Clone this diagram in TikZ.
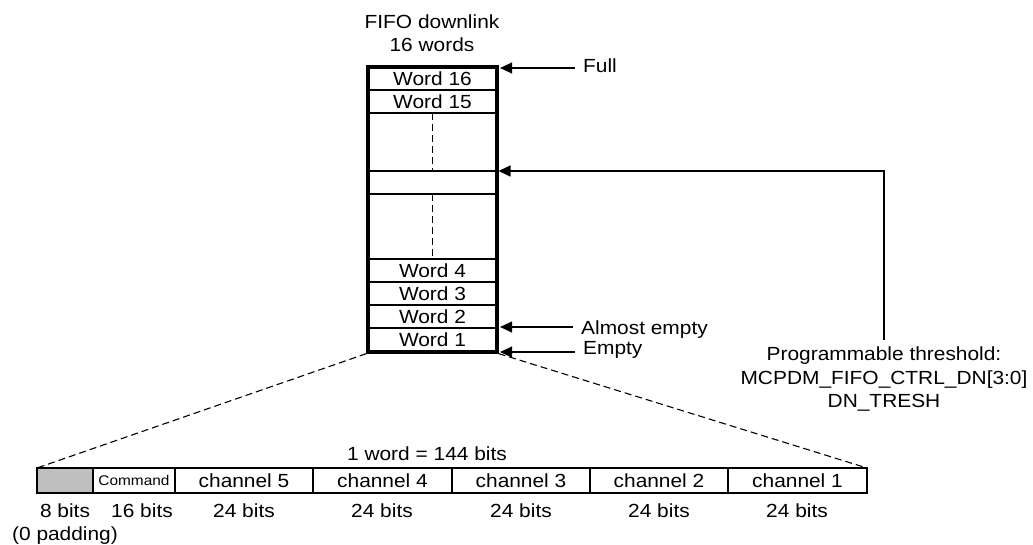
\documentclass[tikz,border=0pt]{standalone}
\usepackage{fontspec}
\setmainfont[FakeStretch=1.1]{Liberation Sans}
\usetikzlibrary{arrows.meta,fit}
\definecolor{padgray}{HTML}{BFBFBF}
\begin{document}
\begin{tikzpicture}[x=1pt,y=-1pt,
  font=\fontsize{19}{23.5}\selectfont,
  row/.style={draw, line width=1.6pt, minimum width=129pt, inner sep=0pt, outer sep=0pt},
  cell/.style={draw, line width=1.3pt, minimum height=25pt, inner sep=0pt, outer sep=0pt},
  arr/.style={line width=1.3pt, -{Triangle[length=12pt,width=11pt]}, shorten >=1.5pt},
  dsh/.style={line width=1.1pt, dash pattern=on 7pt off 4pt},
  lbl/.style={inner sep=0pt, anchor=base west},
  ctr/.style={inner sep=0pt, anchor=base}]
\useasboundingbox (0,0) rectangle (1033,544);

% title
\node[ctr] (t1) at (432,28.5) {FIFO downlink};
\node[ctr] (t2) at (432,51) {16 words};

% FIFO rows
\node[row, minimum height=23pt] (w16) at (432.5,78.5) {Word 16};
\node[row, minimum height=23pt] (w15) at (432.5,101.5) {Word 15};
\node[row, minimum height=58pt] (gap1) at (432.5,142) {};
\node[row, minimum height=23pt] (thr) at (432.5,182.5) {};
\node[row, minimum height=65pt] (gap2) at (432.5,226.5) {};
\node[row, minimum height=23pt] (w4) at (432.5,270.5) {Word 4};
\node[row, minimum height=23pt] (w3) at (432.5,293.5) {Word 3};
\node[row, minimum height=23pt] (w2) at (432.5,316.5) {Word 2};
\node[row, minimum height=24pt] (w1) at (432.5,340) {Word 1};
\draw[dsh] (gap1.north) -- (gap1.south);
\draw[dsh] (gap2.north) -- (gap2.south);
\node[fit=(w16)(w1), inner sep=0pt, draw, line width=3.2pt] (fifo) {};

% side labels and arrows
\coordinate (fullA) at (575,68);
\draw[arr] (fullA) -- (fullA -| fifo.east);
\node[lbl] (full) at (583,72) {Full};

\coordinate (aeA) at (573,327);
\draw[arr] (aeA) -- (aeA -| fifo.east);
\node[lbl] (ae) at (581,334) {Almost empty};

\coordinate (eA) at (575,352);
\draw[arr] (eA) -- (eA -| fifo.east);
\node[lbl] (em) at (583,354) {Empty};

\node[align=center, anchor=north, inner sep=0pt] (prog) at (884,347)
  {Programmable threshold:\\MCPDM\_FIFO\_CTRL\_DN[3:0]\\DN\_TRESH};
\draw[arr] ([yshift=7pt]prog.north) |- (thr.north east);

% word layout bar
\node[ctr] (wlbl) at (427,460) {1 word = 144 bits};
\node[cell, fill=padgray, minimum width=56pt] (pad) at (65,480.5) {};
\node[cell, minimum width=82pt, font=\fontsize{14}{16}\selectfont] (cmd) at (134,480.5) {Command};
\node[cell, minimum width=138pt] (ch5) at (244,480.5) {channel 5};
\node[cell, minimum width=139pt] (ch4) at (382.5,480.5) {channel 4};
\node[cell, minimum width=138pt] (ch3) at (521,480.5) {channel 3};
\node[cell, minimum width=138pt] (ch2) at (659,480.5) {channel 2};
\node[cell, minimum width=139pt] (ch1) at (797.5,480.5) {channel 1};

\draw[dsh] (fifo.south west) -- (pad.north west);
\draw[dsh] (fifo.south east) -- (ch1.north east);

\node[ctr] (b8) at (65,517) {8 bits};
\node[ctr] (b16) at (142,517) {16 bits};
\node[ctr] (b5) at (244,517) {24 bits};
\node[ctr] (b4) at (382,517) {24 bits};
\node[ctr] (b3) at (521,517) {24 bits};
\node[ctr] (b2) at (659,517) {24 bits};
\node[ctr] (b1) at (797,517) {24 bits};
\node[ctr] (padl) at (65,540) {(0 padding)};
\end{tikzpicture}
\end{document}
